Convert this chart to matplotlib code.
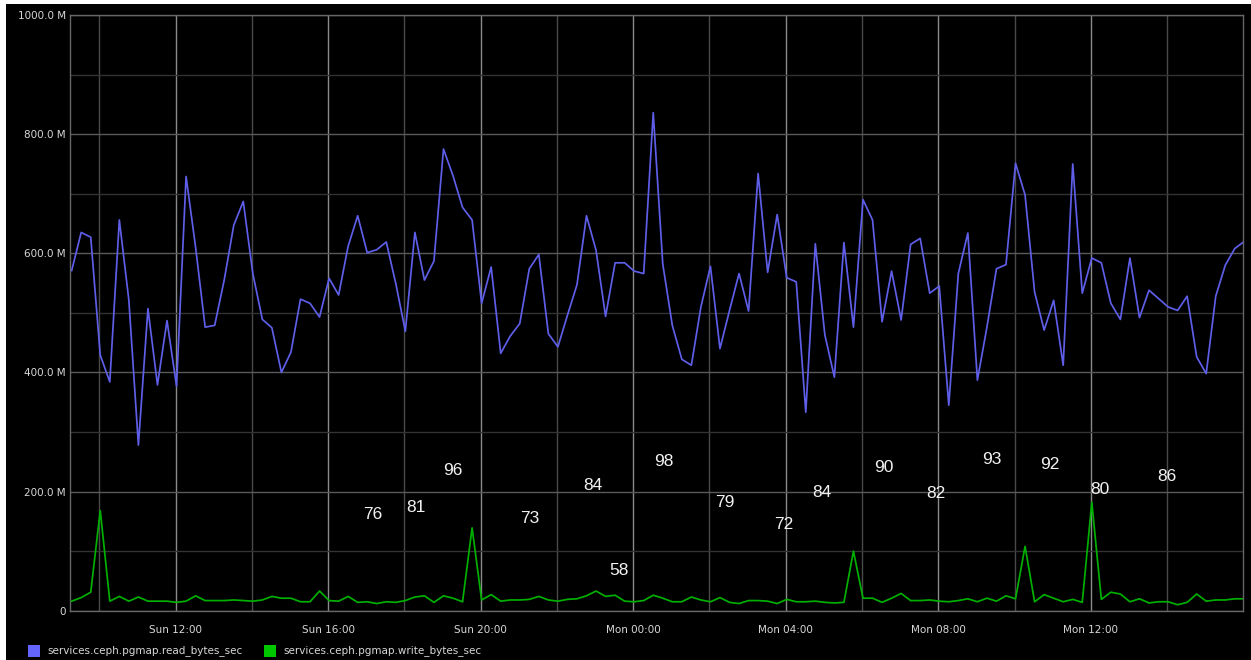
import matplotlib
matplotlib.use('Agg')
import matplotlib.pyplot as plt
import matplotlib.dates as mdates
from matplotlib.patches import Rectangle
from matplotlib.ticker import FuncFormatter
import pandas as pd

# ---- data (values in millions of bytes/sec, one point every 15 minutes) ----
start_time = '2024-01-07 09:16:37'   # a Sunday
read_bytes = [
    571, 635, 627, 429, 384, 656, 521, 278, 507, 379,
    487, 377, 729, 610, 476, 479, 555, 647, 687, 566,
    489, 475, 400, 434, 523, 516, 493, 558, 530, 612,
    663, 601, 606, 619, 549, 469, 635, 555, 587, 775,
    730, 677, 656, 516, 577, 432, 461, 482, 574, 598,
    465, 443, 496, 547, 663, 605, 494, 584, 584, 570,
    566, 836, 582, 479, 422, 412, 510, 578, 440, 504,
    566, 503, 734, 568, 665, 559, 552, 333, 616, 463,
    392, 618, 476, 690, 656, 485, 570, 488, 615, 625,
    533, 545, 345, 566, 634, 387, 476, 574, 581, 751,
    698, 535, 471, 521, 412, 750, 533, 592, 584, 516,
    489, 592, 492, 538, 524, 510, 504, 528, 426, 398,
    528, 580, 608, 620,
]
write_bytes = [
    16, 22, 31, 168, 16, 24, 16, 23, 16, 16,
    16, 14, 16, 25, 17, 17, 17, 18, 17, 16,
    18, 24, 21, 21, 15, 15, 33, 17, 16, 24,
    14, 15, 12, 15, 14, 17, 23, 25, 14, 25,
    21, 15, 139, 18, 27, 16, 18, 18, 19, 24,
    18, 16, 19, 20, 25, 33, 24, 26, 16, 15,
    17, 26, 21, 15, 15, 23, 18, 15, 22, 14,
    12, 17, 17, 16, 12, 19, 15, 15, 16, 14,
    13, 14, 100, 21, 21, 14, 21, 29, 17, 17,
    18, 16, 15, 17, 20, 15, 21, 16, 25, 20,
    108, 15, 27, 21, 15, 19, 14, 182, 19, 31,
    28, 15, 20, 13, 15, 15, 10, 14, 28, 16,
    18, 18, 20, 20,
]
series_names = ['services.ceph.pgmap.read_bytes_sec',
                'services.ceph.pgmap.write_bytes_sec']
series_colors = ['#6464ff', '#00c800']
line_colors = ['#5e5ee8', '#00b000']

# overlay numbers seen on the chart
label_texts = ['76', '81', '96', '73', '84', '58', '98', '79',
               '72', '84', '90', '82', '93', '92', '80', '86']
label_times = ['2024-01-07 17:10', '2024-01-07 18:19', '2024-01-07 19:16',
               '2024-01-07 21:17', '2024-01-07 22:56', '2024-01-07 23:37',
               '2024-01-08 00:49', '2024-01-08 02:25', '2024-01-08 03:57',
               '2024-01-08 04:57', '2024-01-08 06:35', '2024-01-08 07:57',
               '2024-01-08 09:25', '2024-01-08 10:55', '2024-01-08 12:15',
               '2024-01-08 13:59']
label_vals = [162, 173, 235, 154, 211, 68, 251, 182,
              144, 198, 240, 196, 253, 245, 203, 226]

x_start = '2024-01-07 09:14'
x_end = '2024-01-08 15:59:30'
y_major = [0, 200, 400, 600, 800, 1000]
y_minor = [100, 300, 500, 700, 900]

# ---- figure ----
W, H = 1251, 660
fig = plt.figure(figsize=(W / 100, H / 100), dpi=100)
fig.patch.set_facecolor('white')
fig.patches.append(Rectangle((6 / W, 0), 1 - 6 / W, (H - 4) / H,
                             transform=fig.transFigure, facecolor='black',
                             edgecolor='none', zorder=-10))

ax = fig.add_axes([70 / W, 49.3 / H, (1243 - 70) / W, (610.7 - 15) / H])
ax.set_facecolor('black')

times = pd.date_range(start_time, periods=len(read_bytes), freq='15min')
ax.plot(times, read_bytes, color=line_colors[0], lw=1.25, zorder=3)
ax.plot(times, write_bytes, color=line_colors[1], lw=1.25, zorder=3)

for t, v, s in zip(pd.to_datetime(label_times), label_vals, label_texts):
    ax.text(t, v, s, color='#f2f2f2', fontsize=12.5, family='Liberation Sans',
            ha='center', va='center', zorder=4)

ax.set_xlim(pd.Timestamp(x_start), pd.Timestamp(x_end))
ax.set_ylim(0, 1000)

ax.set_yticks(y_major)
ax.set_yticks(y_minor, minor=True)
ax.yaxis.set_major_formatter(FuncFormatter(lambda v, p: '0' if v == 0 else f'{v:.1f} M'))
ax.xaxis.set_major_locator(mdates.HourLocator(byhour=[0, 4, 8, 12, 16, 20]))
ax.xaxis.set_minor_locator(mdates.HourLocator(byhour=[2, 6, 10, 14, 18, 22]))
ax.xaxis.set_major_formatter(mdates.DateFormatter('%a %H:%M'))

ax.grid(which='major', axis='x', color='#8a8a8a', lw=1.0, zorder=1)
ax.grid(which='minor', axis='x', color='#4a4a4a', lw=1.0, zorder=1)
ax.grid(which='major', axis='y', color='#5a5a5a', lw=1.0, zorder=1)
ax.grid(which='minor', axis='y', color='#333333', lw=1.0, zorder=1)

ax.tick_params(which='both', length=0, colors='#d8d8d8', labelsize=7.5)
ax.tick_params(axis='y', pad=3)
ax.tick_params(axis='x', pad=10)
for sp in ax.spines.values():
    sp.set_color('#666666')
    sp.set_linewidth(1.0)

# ---- legend ----
legend_x = [28, 264]
for lx, col, name in zip(legend_x, series_colors, series_names):
    fig.patches.append(Rectangle((lx / W, 3 / H), 12 / W, 12 / H,
                                 transform=fig.transFigure, facecolor=col,
                                 edgecolor='none', zorder=2))
    fig.text((lx + 19) / W, 9 / H, name, color='#d8d8d8', fontsize=7.5,
             ha='left', va='center')

fig.savefig('out.png', dpi=100, facecolor=fig.get_facecolor())
